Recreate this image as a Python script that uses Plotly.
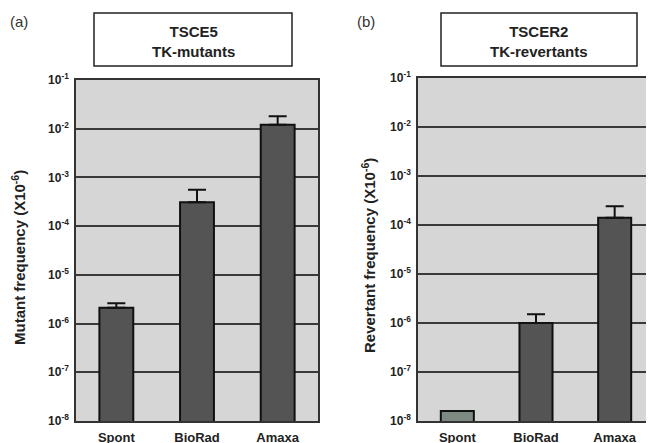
import plotly.graph_objects as go

categories = ["Spont", "BioRad", "Amaxa"]
mutant_freq = [2.1e-6, 3.1e-4, 1.2e-2]
mutant_err_top = [2.6e-6, 5.6e-4, 1.8e-2]
revertant_freq = [1.6e-8, 1.0e-6, 1.4e-4]
revertant_err_top = [None, 1.5e-6, 2.4e-4]
tick_vals = [1e-8, 1e-7, 1e-6, 1e-5, 1e-4, 1e-3, 1e-2, 1e-1]
tick_text = ["10<sup>-8</sup>", "10<sup>-7</sup>", "10<sup>-6</sup>", "10<sup>-5</sup>",
             "10<sup>-4</sup>", "10<sup>-3</sup>", "10<sup>-2</sup>", "10<sup>-1</sup>"]

bar_color = "#545454"
spont_rev_color = "#7d8a82"
plot_bg = "#d6d6d6"
font_fam = "Liberation Sans, Arial, sans-serif"

W, H = 654, 443
OFF = 8  # page body margin offset


def px(x):
    return (x - OFF) / W


def py(y):
    return 1 - (y - OFF) / H


mut_err = [t - v for t, v in zip(mutant_err_top, mutant_freq)]
rev_err = [0 if t is None else t - v for t, v in zip(revertant_err_top, revertant_freq)]

fig = go.Figure()
fig.add_trace(go.Bar(
    x=categories, y=mutant_freq, xaxis="x", yaxis="y",
    marker=dict(color=bar_color, line=dict(color="#111111", width=2)),
    width=0.42,
    error_y=dict(type="data", symmetric=False, array=mut_err, arrayminus=[0, 0, 0],
                 color="#111111", thickness=2, width=9),
    showlegend=False,
))
fig.add_trace(go.Bar(
    x=categories, y=revertant_freq, xaxis="x2", yaxis="y2",
    marker=dict(color=[spont_rev_color, bar_color, bar_color], line=dict(color="#111111", width=2)),
    width=0.42,
    error_y=dict(type="data", symmetric=False, array=rev_err, arrayminus=[0, 0, 0],
                 color="#111111", thickness=2, width=9),
    showlegend=False,
))

bold_ticks = ["<b>" + t + "</b>" for t in tick_text]
yax_common = dict(
    type="log", range=[-8, -1], tickvals=tick_vals, ticktext=bold_ticks,
    showgrid=True, gridcolor="#3a3a3a", gridwidth=1.5,
    showline=True, linecolor="#333333", linewidth=1.5, mirror=True,
    ticks="", tickfont=dict(family=font_fam, size=12, color="#222222"),
    ticklabelstandoff=3,
    zeroline=False, automargin=False,
)
xax_common = dict(
    showgrid=False, showline=True, linecolor="#333333", linewidth=1.5, mirror=True,
    ticks="", tickfont=dict(family=font_fam, size=13, color="#222222"),
    range=[-0.5, 2.5], automargin=False, ticklabelstandoff=4,
    tickprefix="<b>", ticksuffix="</b>",
)

fig.update_layout(
    width=W, height=H,
    margin=dict(l=0, r=0, t=0, b=0, autoexpand=False),
    paper_bgcolor="white", plot_bgcolor=plot_bg,
    font=dict(family=font_fam, color="#222222"),
    xaxis=dict(domain=[px(76), px(318)], anchor="y", **xax_common),
    yaxis=dict(domain=[py(421), py(80)], anchor="x", **yax_common),
    xaxis2=dict(domain=[px(418), px(654)], anchor="y2", **xax_common),
    yaxis2=dict(domain=[py(421), py(78)], anchor="x2", **yax_common),
)

# y axis titles
fig.add_annotation(xref="paper", yref="paper", x=px(18), y=py(258),
                   xanchor="center", yanchor="middle", textangle=-90,
                   text="<b>Mutant frequency (X10<sup>-6</sup>)</b>", showarrow=False,
                   font=dict(size=15, family=font_fam, color="#222222"))
fig.add_annotation(xref="paper", yref="paper", x=px(368), y=py(256),
                   xanchor="center", yanchor="middle", textangle=-90,
                   text="<b>Revertant frequency (X10<sup>-6</sup>)</b>", showarrow=False,
                   font=dict(size=15, family=font_fam, color="#222222"))

# title boxes
fig.add_shape(type="rect", xref="paper", yref="paper",
              x0=px(94), x1=px(292), y0=py(66), y1=py(13),
              line=dict(color="#222222", width=1.5), fillcolor="white")
fig.add_shape(type="rect", xref="paper", yref="paper",
              x0=px(441), x1=px(637), y0=py(66), y1=py(13),
              line=dict(color="#222222", width=1.5), fillcolor="white")
fig.add_annotation(xref="paper", yref="paper", x=px(193), y=py(42),
                   xanchor="center", yanchor="middle", align="center",
                   text="<b>TSCE5<br>TK-mutants</b>", showarrow=False,
                   font=dict(size=15, family=font_fam, color="#222222"))
fig.add_annotation(xref="paper", yref="paper", x=px(539), y=py(42),
                   xanchor="center", yanchor="middle", align="center",
                   text="<b>TSCER2<br>TK-revertants</b>", showarrow=False,
                   font=dict(size=15, family=font_fam, color="#222222"))
fig.add_annotation(xref="paper", yref="paper", x=px(19), y=py(21),
                   xanchor="center", yanchor="middle",
                   text="(a)", showarrow=False,
                   font=dict(size=15, family=font_fam, color="#333333"))
fig.add_annotation(xref="paper", yref="paper", x=px(366), y=py(22),
                   xanchor="center", yanchor="middle",
                   text="(b)", showarrow=False,
                   font=dict(size=15, family=font_fam, color="#333333"))

fig.write_html("out.html")
